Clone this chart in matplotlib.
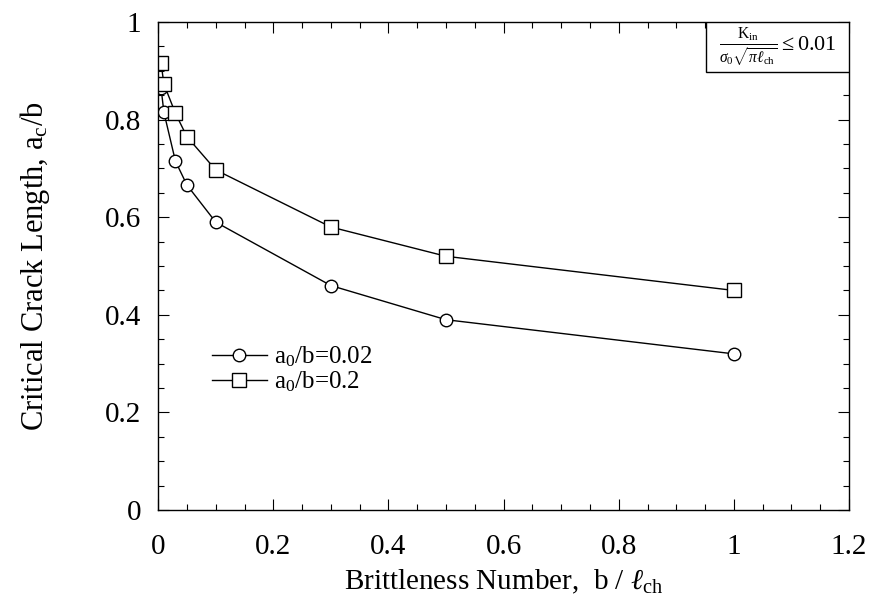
import matplotlib
matplotlib.use("Agg")
import matplotlib.pyplot as plt
from matplotlib.ticker import MultipleLocator, FuncFormatter
from matplotlib.patches import Rectangle

plt.rcParams['font.family'] = ['Liberation Serif', 'DejaVu Serif']
plt.rcParams['mathtext.fontset'] = 'custom'
plt.rcParams['mathtext.rm'] = 'Liberation Serif'
plt.rcParams['mathtext.it'] = 'Liberation Serif:italic'

x_vals = [0.005, 0.01, 0.03, 0.05, 0.1, 0.3, 0.5, 1.0]
y_a002 = [0.865, 0.815, 0.715, 0.666, 0.59, 0.46, 0.39, 0.32]
y_a02 = [0.916, 0.873, 0.813, 0.765, 0.697, 0.58, 0.52, 0.45]
labels = [r"a$_{\rm 0}$/b=0.02", r"a$_{\rm 0}$/b=0.2"]

fig = plt.figure(figsize=(8.69, 6.13), dpi=100)
ax = fig.add_axes([0.182, 0.168, 0.795, 0.796])

ax.plot(x_vals, y_a002, '-', color='black', lw=1.0, marker='o', ms=9,
        mfc='white', mec='black', mew=1.0, label=labels[0])
ax.plot(x_vals, y_a02, '-', color='black', lw=1.0, marker='s', ms=10,
        mfc='white', mec='black', mew=1.0, label=labels[1])

ax.set_xlim(0, 1.2)
ax.set_ylim(0, 1)
ax.xaxis.set_major_locator(MultipleLocator(0.2))
ax.xaxis.set_minor_locator(MultipleLocator(0.05))
ax.yaxis.set_major_locator(MultipleLocator(0.2))
ax.yaxis.set_minor_locator(MultipleLocator(0.05))

def fmt(v, pos):
    s = f"{v:.1f}"
    if s.endswith(".0"):
        s = s[:-2]
    return s

ax.xaxis.set_major_formatter(FuncFormatter(fmt))
ax.yaxis.set_major_formatter(FuncFormatter(fmt))
ax.tick_params(which='both', direction='in', top=True, right=True, labelsize=21)
ax.tick_params(which='major', length=8, width=0.8)
ax.tick_params(which='minor', length=4, width=0.8)
ax.tick_params(axis='x', pad=17)
ax.tick_params(axis='y', pad=12)
for sp in ax.spines.values():
    sp.set_linewidth(1.0)

ax.set_xlabel(r"Brittleness Number,  b / $\ell_{\rm ch}$", fontsize=21, labelpad=6)
ax.set_ylabel(r"Critical Crack Length, a$_{\rm c}$/b", fontsize=22, labelpad=38)

ax.legend(loc='upper left', bbox_to_anchor=(0.045, 0.385), frameon=False,
          fontsize=18, handlelength=2.2, handletextpad=0.3, labelspacing=0.0)

bx0 = 0.793
by0 = 0.898
ax.add_patch(Rectangle((bx0, by0), 1 - bx0, 1 - by0, transform=ax.transAxes,
                       fc='white', ec='black', lw=1.0, zorder=3))
ax.text((bx0 + 1) / 2, (by0 + 1) / 2,
        r"$\frac{\mathrm{K}_{\rm in}}{\sigma_0\sqrt{\pi\ell_{\rm ch}}}\leq 0.01$",
        transform=ax.transAxes, ha='center', va='center', fontsize=16, zorder=4)

fig.savefig("out.png", dpi=100)
